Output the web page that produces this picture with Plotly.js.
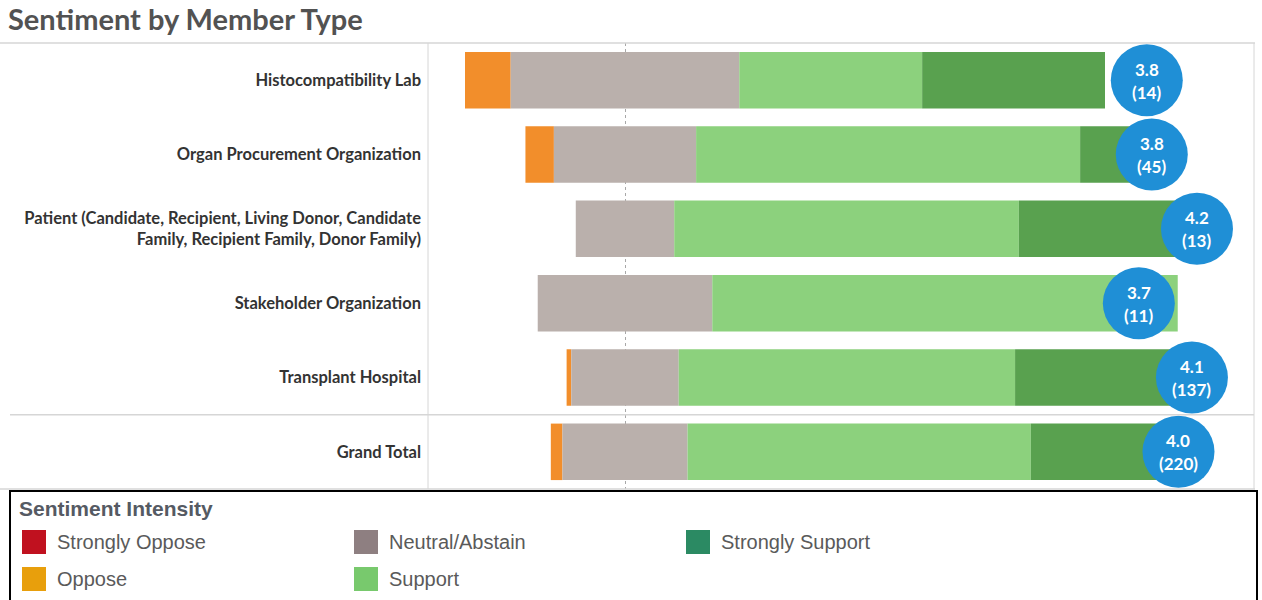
<!DOCTYPE html>
<html>
<head>
<meta charset="utf-8">
<script src="https://cdn.plot.ly/plotly-3.0.1.min.js"></script>
<style>html,body{margin:0;padding:0;background:#fff;}#chart{width:1262px;height:600px;}</style>
</head>
<body>
<div id="chart"></div>
<script>
// ---- data (respondent counts per sentiment) ----
var memberTypes = ['Histocompatibility Lab', 'Organ Procurement Organization',
  'Patient (Candidate, Recipient, Living Donor, Candidate Family, Recipient Family, Donor Family)',
  'Stakeholder Organization', 'Transplant Hospital', 'Grand Total'];
var tickLabels = ['Histocompatibility Lab', 'Organ Procurement Organization',
  'Patient (Candidate, Recipient, Living Donor, Candidate<br>Family, Recipient Family, Donor Family)',
  'Stakeholder Organization', 'Transplant Hospital', 'Grand Total'];
var stronglyOppose  = [0, 0, 0, 0, 0, 0];
var oppose          = [1, 2, 0, 0, 1, 4];
var neutralAbstain  = [5, 10, 2, 3, 23, 43];
var support         = [4, 27, 7, 8, 72, 118];
var stronglySupport = [4, 6, 4, 0, 41, 55];
var sentimentNames  = ['Strongly Oppose', 'Oppose', 'Neutral/Abstain', 'Support', 'Strongly Support'];
var sentimentScores = [1, 2, 3, 4, 5];

// ---- styles ----
var barColors    = {so: '#E15759', o: '#F28E2B', n: '#BAB0AC', s: '#8CD17D', ss: '#59A14F'};
var legendColors = ['#c0111f', '#e89f0c', '#8e7f81', '#78c96d', '#2b8a63'];
var bubbleColor  = '#1f8fd6';

// ---- derived ----
var totals = memberTypes.map(function (_, i) {
  return stronglyOppose[i] + oppose[i] + neutralAbstain[i] + support[i] + stronglySupport[i];
});
function pct(arr) { return arr.map(function (v, i) { return 100 * v / totals[i]; }); }
var pSO = pct(stronglyOppose), pO = pct(oppose), pN = pct(neutralAbstain), pS = pct(support), pSS = pct(stronglySupport);
var avgScore = memberTypes.map(function (_, i) {
  var c = [stronglyOppose[i], oppose[i], neutralAbstain[i], support[i], stronglySupport[i]];
  var s = 0; for (var k = 0; k < 5; k++) s += sentimentScores[k] * c[k];
  return s / totals[i];
});

var BW = 0.76;
function barTrace(name, widths, bases, color) {
  return {type: 'bar', orientation: 'h', name: name, y: memberTypes, x: widths, base: bases,
    width: BW, marker: {color: color, line: {width: 0}}, showlegend: false, hoverinfo: 'name+x'};
}
var baseN  = pN.map(function (v) { return -v / 2; });
var baseO  = pN.map(function (v, i) { return -v / 2 - pO[i]; });
var baseSO = pN.map(function (v, i) { return -v / 2 - pO[i] - pSO[i]; });
var baseS  = pN.map(function (v) { return v / 2; });
var baseSS = pN.map(function (v, i) { return v / 2 + pS[i]; });

var traces = [
  barTrace('Strongly Oppose', pSO, baseSO, barColors.so),
  barTrace('Oppose', pO, baseO, barColors.o),
  barTrace('Neutral/Abstain', pN, baseN, barColors.n),
  barTrace('Support', pS, baseS, barColors.s),
  barTrace('Strongly Support', pSS, baseSS, barColors.ss),
  {type: 'scatter', mode: 'markers', x: avgScore, y: memberTypes, xaxis: 'x2', yaxis: 'y',
    marker: {size: 72, color: bubbleColor, line: {width: 0}}, showlegend: false, hoverinfo: 'x'}
];

// ---- layout geometry helpers (pixel -> paper) ----
var L = 428, R = 8, T = 43, B = 111, W = 1262, H = 600;
var PW = W - L - R, PH = H - T - B;
function px(p) { return (p - L) / PW; }
function py(p) { return (H - B - p) / PH; }

var lineCol = '#d6d6d6';
var shapes = [
  {type: 'line', xref: 'paper', yref: 'paper', x0: px(0), x1: px(1255), y0: 1, y1: 1, line: {color: lineCol, width: 1.5}},
  {type: 'line', xref: 'paper', yref: 'paper', x0: px(0), x1: px(1255), y0: 0, y1: 0, line: {color: lineCol, width: 1.5}},
  {type: 'line', xref: 'paper', yref: 'paper', x0: 0, x1: 0, y0: 0, y1: 1, line: {color: lineCol, width: 1}},
  {type: 'line', xref: 'paper', yref: 'paper', x0: 1, x1: 1, y0: 0, y1: 1, line: {color: lineCol, width: 1}},
  {type: 'line', xref: 'paper', yref: 'y', x0: px(10), x1: 1, y0: 4.5, y1: 4.5, line: {color: lineCol, width: 1.5}},
  {type: 'rect', xref: 'paper', yref: 'paper', x0: px(10), x1: px(1257), y0: py(491), y1: py(605), line: {color: '#000', width: 2}, fillcolor: 'rgba(0,0,0,0)'}
];
var annotations = [];

// bubble labels
memberTypes.forEach(function (m, i) {
  annotations.push({xref: 'x2', yref: 'y', x: avgScore[i], y: m, text: avgScore[i].toFixed(1), showarrow: false,
    yshift: 11, font: {family: 'Lato', size: 17, color: '#fff', weight: 700}});
  annotations.push({xref: 'x2', yref: 'y', x: avgScore[i], y: m, text: '(' + totals[i] + ')', showarrow: false,
    yshift: -12, font: {family: 'Lato', size: 17, color: '#fff', weight: 700}});
});

// legend
annotations.push({xref: 'paper', yref: 'paper', x: px(17), y: py(508), xanchor: 'left', yanchor: 'middle',
  text: 'Sentiment Intensity', showarrow: false,
  font: {family: 'Liberation Sans, Arial, sans-serif', size: 21, weight: 700, color: '#555a63'}});
sentimentNames.forEach(function (name, k) {
  var col = Math.floor(k / 2), row = k % 2;
  var x0 = 22 + 332 * col, cy = 542 + 37 * row;
  shapes.push({type: 'rect', xref: 'paper', yref: 'paper', x0: px(x0), x1: px(x0 + 24), y0: py(cy - 12), y1: py(cy + 12),
    fillcolor: legendColors[k], line: {width: 0}});
  annotations.push({xref: 'paper', yref: 'paper', x: px(x0 + 33), y: py(cy), xanchor: 'left', yanchor: 'middle',
    text: name, showarrow: false, font: {family: 'Liberation Sans, Arial, sans-serif', size: 20, color: '#5a5a5a'}});
});

var layout = {
  width: W, height: H,
  margin: {l: L, r: R, t: T, b: B, pad: 0},
  paper_bgcolor: '#fff', plot_bgcolor: '#fff',
  barmode: 'overlay',
  title: {text: 'Sentiment by Member Type', x: 8 / W, xref: 'container', xanchor: 'left',
    y: 1 - 20 / H, yref: 'container', yanchor: 'middle',
    font: {family: 'Lato', size: 29, weight: 700, color: '#525252'}},
  xaxis: {range: [(L - 625) / 6.4, (W - R - 625) / 6.4], tickvals: [0], showticklabels: false,
    showgrid: true, gridcolor: '#a8a8a8', griddash: 'dot', gridwidth: 1, zeroline: false, showline: false, fixedrange: true},
  xaxis2: {overlaying: 'x', range: [(L - 630.8) / 136.3, (W - R - 630.8) / 136.3], visible: false, fixedrange: true},
  yaxis: {type: 'category', categoryarray: memberTypes, categoryorder: 'array', range: [5.5, -0.5],
    tickvals: memberTypes, ticktext: tickLabels, ticks: '', showgrid: false, zeroline: false, showline: false,
    ticklabelstandoff: 6,
    tickfont: {family: 'Lato', size: 16.5, weight: 700, color: '#333'}},
  shapes: shapes,
  annotations: annotations,
  showlegend: false
};

Plotly.newPlot('chart', traces, layout, {displayModeBar: false, staticPlot: true});
</script>
</body>
</html>
